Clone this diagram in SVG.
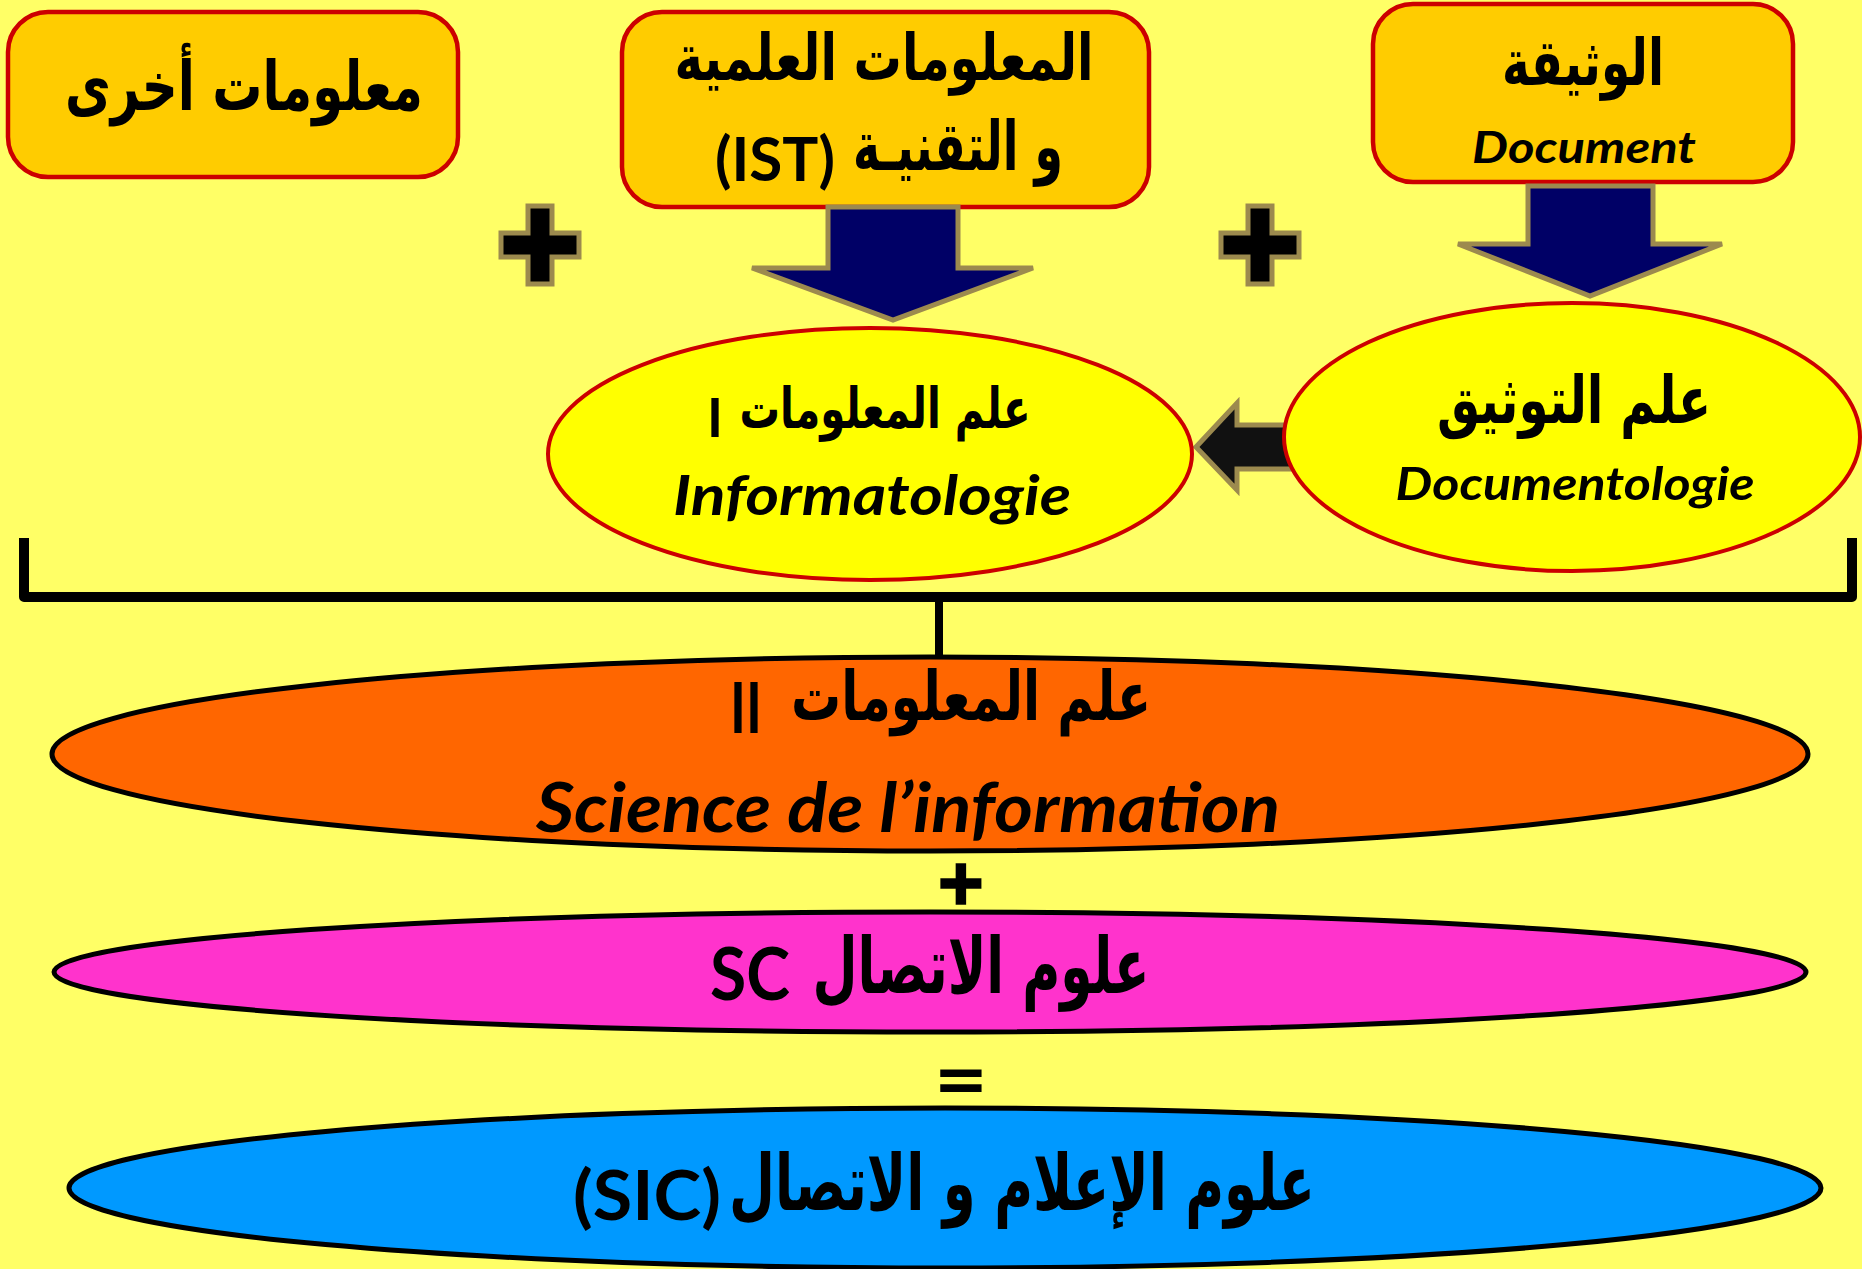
<svg xmlns="http://www.w3.org/2000/svg" xmlns:xlink="http://www.w3.org/1999/xlink" width="1862" height="1269" viewBox="0 0 1862 1269">
  <style>
    .box { fill: #FFCC00; stroke: #CC0000; stroke-width: 4.5; }
    .ell-y { fill: #FFFF00; stroke: #CC0000; stroke-width: 4; }
    .ell-dark { stroke: #000; stroke-width: 5; }
    .ar { font-family: 'DejaVu Sans', sans-serif; font-weight: bold; fill: #000; }
    .lat { font-family: Lato, 'Open Sans', 'Liberation Sans', sans-serif; font-weight: bold; fill: #000; }
    .it { font-style: italic; }
    .op { font-family: 'DejaVu Sans', sans-serif; font-weight: bold; fill: #000; }
    .arrow-navy { fill: #000066; stroke: #9C8A4E; stroke-width: 5; stroke-linejoin: miter; }
    .arrow-dark { fill: #111111; stroke: #9C8A4E; stroke-width: 5; stroke-linejoin: miter; }
    .plus { fill: #000; stroke: #9C8A4E; stroke-width: 5; }
    .bracket { fill: none; stroke: #000; stroke-width: 10; stroke-linejoin: round; }
  </style>
  <defs>
    <polygon id="plusShape" points="-12,-39 12,-39 12,-12 39,-12 39,12 12,12 12,39 -12,39 -12,12 -39,12 -39,-12 -12,-12"/>
  </defs>

  <rect x="0" y="0" width="1862" height="1269" fill="#FFFF66"/>

  <!-- top boxes -->
  <g id="box-autres">
    <rect class="box" x="8" y="12" width="450" height="165" rx="40"/>
    <text class="ar" x="244" y="110" font-size="68" text-anchor="middle" textLength="358" lengthAdjust="spacingAndGlyphs">معلومات أخرى</text>
  </g>

  <g id="box-ist">
    <rect class="box" x="622" y="12" width="527" height="195" rx="40"/>
    <text class="ar" x="884" y="80" font-size="64" text-anchor="middle" textLength="419" lengthAdjust="spacingAndGlyphs">المعلومات العلمية</text>
    <text class="ar" x="958" y="170" font-size="68" text-anchor="middle" textLength="210" lengthAdjust="spacingAndGlyphs">و التقنيـة</text>
    <text class="lat" x="775" y="181" font-size="62" text-anchor="middle" textLength="120" lengthAdjust="spacingAndGlyphs">(IST)</text>
  </g>

  <g id="box-document">
    <rect class="box" x="1373" y="4" width="420" height="178" rx="40"/>
    <text class="ar" x="1583" y="85" font-size="64" text-anchor="middle" textLength="162" lengthAdjust="spacingAndGlyphs">الوثيقة</text>
    <text class="lat it" x="1584" y="163" font-size="44" text-anchor="middle" textLength="224" lengthAdjust="spacingAndGlyphs">Document</text>
  </g>

  <!-- connectors: block arrows, bracket and stem -->
  <g id="connectors">
    <polygon class="arrow-navy" points="828,207 958,207 958,268 1033,268 893,320 752,268 828,268"/>
    <polygon class="arrow-navy" points="1528,186 1653,186 1653,244 1722,244 1590,296 1458,244 1528,244"/>
    <polygon class="arrow-dark" points="1196,447 1237,403 1237,425 1295,425 1295,469 1237,469 1237,490"/>
    <path class="bracket" d="M24,538 V597 H1852 V538"/>
    <line x1="939" y1="597" x2="939" y2="662" stroke="#000" stroke-width="8" stroke-linecap="round"/>
  </g>

  <!-- operators between the blocks -->
  <g id="operators">
    <use xlink:href="#plusShape" href="#plusShape" class="plus" transform="translate(540,245)"/>
    <use xlink:href="#plusShape" href="#plusShape" class="plus" transform="translate(1260,245)"/>
    <text class="op" x="961" y="903" font-size="60" text-anchor="middle" stroke="#000" stroke-width="3.5">+</text>
    <text class="op" x="961" y="1102" font-size="66" text-anchor="middle">=</text>
  </g>

  <!-- middle ellipses -->
  <g id="node-informatologie">
    <ellipse class="ell-y" cx="870" cy="454" rx="322" ry="126"/>
    <text class="ar" x="885" y="428" font-size="56" text-anchor="middle" textLength="291" lengthAdjust="spacingAndGlyphs">علم المعلومات</text>
    <text class="lat" x="715" y="437" font-size="54" text-anchor="middle">I</text>
    <text class="lat it" x="872" y="515" font-size="56" text-anchor="middle" textLength="398" lengthAdjust="spacingAndGlyphs">Informatologie</text>
  </g>

  <g id="node-documentologie">
    <ellipse class="ell-y" cx="1572" cy="437" rx="288" ry="134"/>
    <text class="ar" x="1574" y="423" font-size="66" text-anchor="middle" textLength="274" lengthAdjust="spacingAndGlyphs">علم التوثيق</text>
    <text class="lat it" x="1575" y="500" font-size="45" text-anchor="middle" textLength="359" lengthAdjust="spacingAndGlyphs">Documentologie</text>
  </g>

  <!-- lower ellipses -->
  <g id="node-science-information">
    <ellipse class="ell-dark" fill="#FF6600" cx="930" cy="754" rx="878" ry="97"/>
    <text class="ar" x="971" y="720" font-size="68" text-anchor="middle" textLength="360" lengthAdjust="spacingAndGlyphs">علم المعلومات</text>
    <text class="lat" x="746" y="733" font-size="70" text-anchor="middle" textLength="32" lengthAdjust="spacingAndGlyphs">II</text>
    <text class="lat it" x="908" y="832" font-size="68" text-anchor="middle" textLength="744" lengthAdjust="spacingAndGlyphs">Science de l’information</text>
  </g>

  <g id="node-sc">
    <ellipse class="ell-dark" fill="#FF33CC" cx="930" cy="972" rx="876" ry="60"/>
    <text class="ar" x="981" y="993" font-size="78" text-anchor="middle" textLength="337" lengthAdjust="spacingAndGlyphs">علوم الاتصال</text>
    <text class="lat" x="750" y="1000" font-size="72" text-anchor="middle" textLength="80" lengthAdjust="spacingAndGlyphs">SC</text>
  </g>

  <g id="node-sic">
    <ellipse class="ell-dark" fill="#0099FF" cx="945" cy="1188" rx="876" ry="80"/>
    <text class="ar" x="1022" y="1210" font-size="78" text-anchor="middle" textLength="586" lengthAdjust="spacingAndGlyphs">علوم الإعلام و الاتصال</text>
    <text class="lat" x="647" y="1220" font-size="68" text-anchor="middle" textLength="148" lengthAdjust="spacingAndGlyphs">(SIC)</text>
  </g>
</svg>
